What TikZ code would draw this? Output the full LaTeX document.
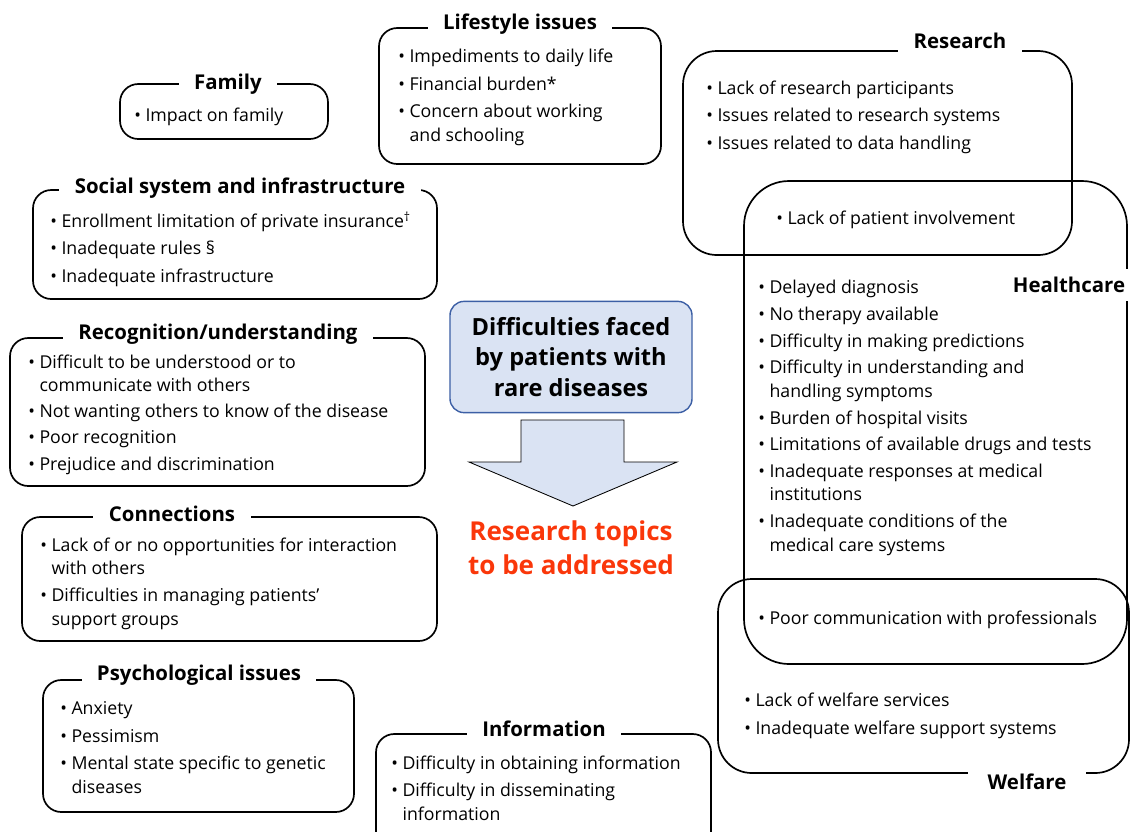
\documentclass[tikz,border=0pt]{standalone}
\usepackage{fontspec}
\setmainfont{Open Sans}
\usepackage{tikz}
\definecolor{boxfill}{RGB}{218,227,243}
\definecolor{boxline}{RGB}{60,95,165}
\definecolor{topicred}{RGB}{250,55,10}
\newcommand{\bul}{\textbullet\ }
\newcommand{\cnt}{\phantom{\textbullet\ }}

\begin{document}
\begin{tikzpicture}[x=0.025cm, y=-0.025cm,
    grp/.style={line width=1.2pt, rounded corners=#1}, grp/.default=13pt,
    ttl/.style={fill=white, inner xsep=11pt, inner ysep=2pt, font=\bfseries\fontsize{14.5}{17}\selectfont},
    lst/.style={anchor=base west, align=left, inner sep=0pt, font=\fontsize{12.6}{16.5}\selectfont}]
      \useasboundingbox (0,0) rectangle (1131,831);
      \clip (0,0) rectangle (1131,831);

      \draw[grp] (120,84) rectangle (328,139);
      \node[ttl] (famT) at (228,84) {Family};
      \node[lst] (famL) at (134,121) {\bul Impact on family};

      \draw[grp] (379,28) rectangle (661,164);
      \node[ttl] (lifeT) at (520,24) {Lifestyle issues};
      \node[lst] (lifeL) at (398,141) {\bul Impediments to daily life\\[3pt]
        \bul Financial burden*\\[3pt]
        \bul Concern about working\\\cnt and schooling};

      \draw[grp=24pt] (683,51) rectangle (1072,255);
      \draw[grp=32pt] (744,181) rectangle (1127,664);
      \draw[grp=24pt] (718,579) rectangle (1129,773);
      \node[ttl] (resT) at (960,41) {Research};
      \node[ttl, inner xsep=5pt, inner ysep=6pt] (hcT) at (1069,285) {Healthcare};
      \node[ttl, inner xsep=14pt] (welT) at (1027,782) {Welfare};

      \node[lst] (resL) at (706,149) {\bul Lack of research participants\\[3pt]
        \bul Issues related to research systems\\[3pt]
        \bul Issues related to data handling};
      \node[lst] (resHc) at (776,224) {\bul Lack of patient involvement};

      \node[lst] (hcL) at (758,551) {\bul Delayed diagnosis\\[2.6pt]
        \bul No therapy available\\[2.6pt]
        \bul Difficulty in making predictions\\[2.6pt]
        \bul Difficulty in understanding and\\\cnt handling symptoms\\[2.6pt]
        \bul Burden of hospital visits\\[2.6pt]
        \bul Limitations of available drugs and tests\\[2.6pt]
        \bul Inadequate responses at medical\\\cnt institutions\\[2.6pt]
        \bul Inadequate conditions of the\\\cnt medical care systems};
      \node[lst] (hcWel) at (758,624) {\bul Poor communication with professionals};

      \node[lst] (welL) at (744,734) {\bul Lack of welfare services\\[3pt]
        \bul Inadequate welfare support systems};

      \draw[grp] (33,190) rectangle (437,299);
      \node[ttl] (socT) at (240,188) {Social system and infrastructure};
      \node[lst] (socL) at (50,282) {\bul Enrollment limitation of private insurance\textsuperscript{\dag}\\[3pt]
        \bul Inadequate rules \S\\[3pt]
        \bul Inadequate infrastructure};

      \draw[grp] (10,338) rectangle (425,486);
      \node[ttl] (recT) at (218,334) {Recognition/understanding};
      \node[lst] (recL) at (28,470) {\bul Difficult to be understood or to\\\cnt communicate with others\\[2pt]
        \bul Not wanting others to know of the disease\\[2pt]
        \bul Poor recognition\\[2pt]
        \bul Prejudice and discrimination};

      \draw[grp] (22,517) rectangle (437,641);
      \node[ttl] (conT) at (172,514) {Connections};
      \node[lst] (conL) at (40,625) {\bul Lack of or no opportunities for interaction\\\cnt with others\\[3pt]
        \bul Difficulties in managing patients'\\\cnt support groups};

      \draw[grp] (43,680) rectangle (354,812);
      \node[ttl] (psyT) at (199,675) {Psychological issues};
      \node[lst] (psyL) at (60,793) {\bul Anxiety\\[3pt]
        \bul Pessimism\\[3pt]
        \bul Mental state specific to genetic\\\cnt diseases};

      \draw[grp] (376,734) rectangle (711,860);
      \node[ttl] (infT) at (544,729) {Information};
      \node[lst] (infL) at (391,820) {\bul Difficulty in obtaining information\\[3pt]
        \bul Difficulty in disseminating\\\cnt information};

      \node[draw=boxline, fill=boxfill, line width=1pt, rounded corners=10pt,
        minimum width=6.05cm, minimum height=2.78cm, align=center,
        font=\bfseries\fontsize{16.8}{21.7}\selectfont] (dif) at (571,357)
        {Difficulties faced\\by patients with\\rare diseases};

      \draw[fill=boxfill, line width=0.6pt] (521,420) -- (624,420) -- (624,462) -- (677,462)
        -- (573,506) -- (469,462) -- (521,462) -- cycle;

      \node[align=center, text=topicred, font=\bfseries\fontsize{18.5}{24}\selectfont] (top) at (571,548)
        {Research topics\\to be addressed};

    \end{tikzpicture}
\end{document}
